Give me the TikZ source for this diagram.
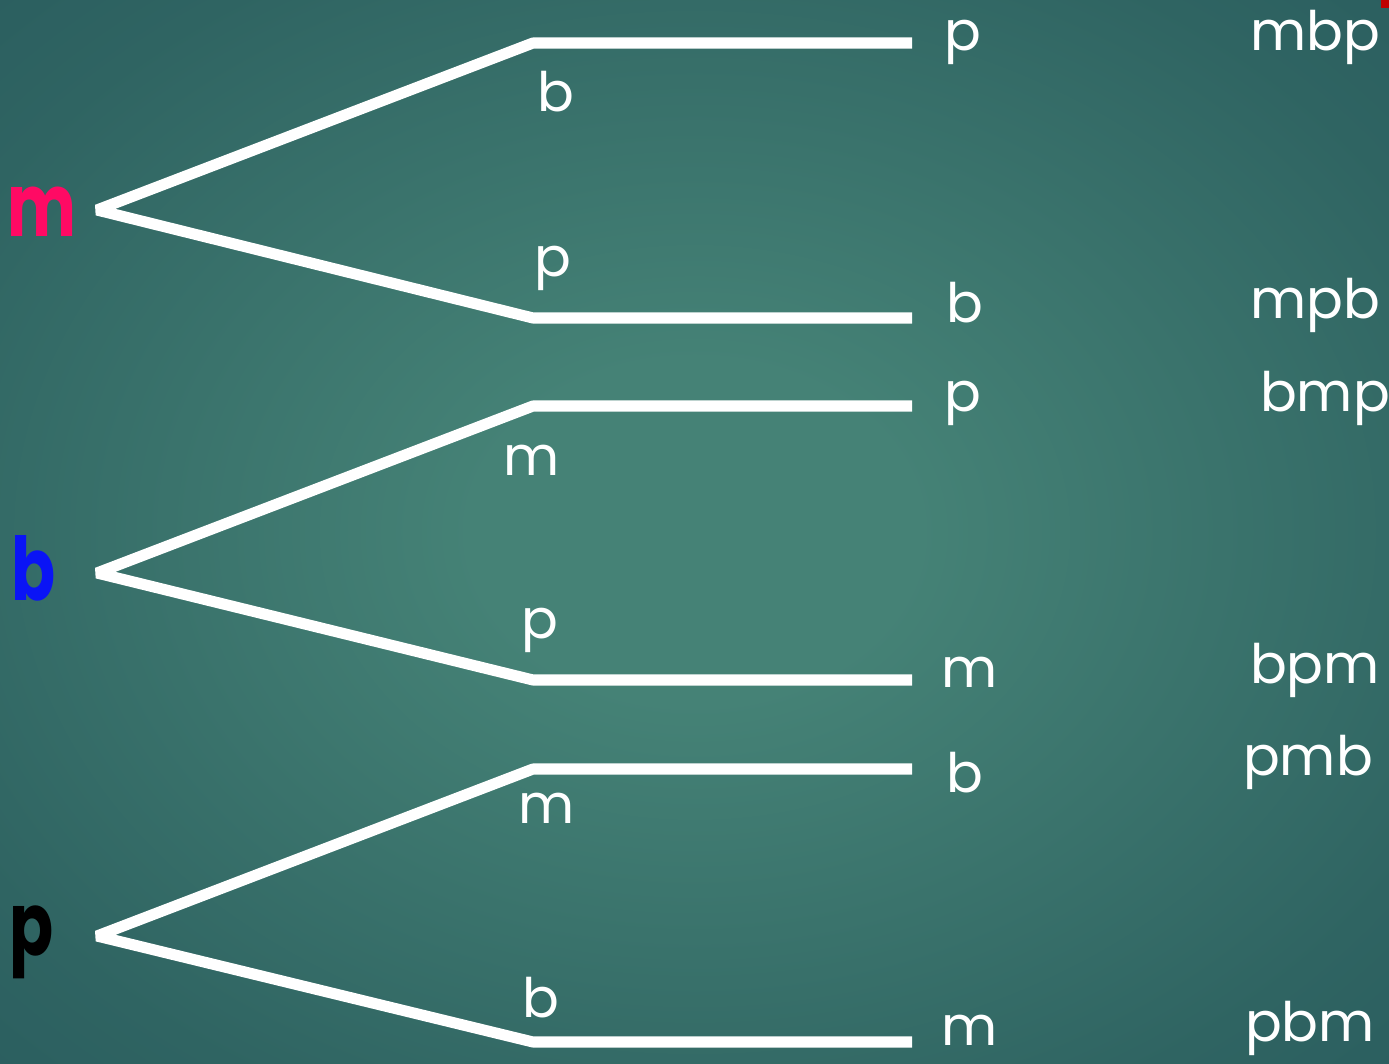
\documentclass[tikz,border=0pt]{standalone}
\usepackage{graphicx}
\usepackage{fontspec}
\setmainfont{Poppins}
\definecolor{bgin}{HTML}{458276}
\definecolor{bgmid}{HTML}{2F6462}
\definecolor{bgout}{HTML}{22525A}
\definecolor{bgcorner}{HTML}{17404A}
\definecolor{rootred}{HTML}{FF0A64}
\definecolor{rootblue}{HTML}{0A14F5}
\definecolor{markred}{HTML}{C00000}
\pgfdeclareradialshading{bgshade}{\pgfpoint{0bp}{0bp}}{color(0bp)=(bgin); color(8bp)=(bgin); color(30bp)=(bgmid); color(50bp)=(bgout); color(72bp)=(bgcorner)}
\tikzset{
  branch/.style={draw=white, line width=6.3pt, line join=bevel},
  lbl/.style={text=white, font=\fontsize{31}{36}\selectfont, inner sep=0pt},
  rootlbl/.style={font=\fontsize{50}{60}\selectfont\bfseries, inner sep=0pt},
  pt/.style={coordinate}
}
\newcommand{\narrowtxt}[1]{\scalebox{0.74}[1]{#1}}
\begin{document}
\begin{tikzpicture}[x=0.02cm,y=-0.02cm]
\useasboundingbox (0,0) rectangle (1389,1064);
\shade[shading=bgshade] (0,0) rectangle (1389,1064);
\fill[markred] (1381,0) rectangle (1389,8);
% tree 1
\node[pt] (r1) at (97,210) {};
\node[pt] (a1) at (533,43) {};
\node[pt] (a2) at (912,43) {};
\node[pt] (b1) at (533,318) {};
\node[pt] (b2) at (912,318) {};
% tree 2
\node[pt] (r2) at (97,573) {};
\node[pt] (c1) at (533,406) {};
\node[pt] (c2) at (912,406) {};
\node[pt] (d1) at (533,680) {};
\node[pt] (d2) at (912,680) {};
% tree 3
\node[pt] (r3) at (97,936) {};
\node[pt] (e1) at (533,769) {};
\node[pt] (e2) at (912,769) {};
\node[pt] (f1) at (533,1042) {};
\node[pt] (f2) at (912,1042) {};
\draw[branch] (a2) -- (a1) -- (r1) -- (b1) -- (b2);
\draw[branch] (c2) -- (c1) -- (r2) -- (d1) -- (d2);
\draw[branch] (e2) -- (e1) -- (r3) -- (f1) -- (f2);
% root letters
\node[rootlbl, text=rootred] (m0) at (42,212) {\narrowtxt{m}};
\node[rootlbl, text=rootblue] (b0) at (34,568) {\narrowtxt{b}};
\node[rootlbl, text=black] (p0) at (32,942) {\narrowtxt{p}};
% branch labels
\node[lbl] (lb1) at (556,92) {b};
\node[lbl] (lb2) at (553,268) {p};
\node[lbl] (lb3) at (532,460) {m};
\node[lbl] (lb4) at (540,630) {p};
\node[lbl] (lb5) at (547,808) {m};
\node[lbl] (lb6) at (541,998) {b};
% leaf labels
\node[lbl] (lf1) at (963,42) {p};
\node[lbl] (lf2) at (965,303) {b};
\node[lbl] (lf3) at (963,403) {p};
\node[lbl] (lf4) at (970,672) {m};
\node[lbl] (lf5) at (965,773) {b};
\node[lbl] (lf6) at (970,1030) {m};
% words
\node[lbl] (w1) at (1315,37) {mbp};
\node[lbl] (w2) at (1315,305) {mpb};
\node[lbl] (w3) at (1325,398) {bmp};
\node[lbl] (w4) at (1315,670) {bpm};
\node[lbl] (w5) at (1308,762) {pmb};
\node[lbl] (w6) at (1310,1028) {pbm};
\end{tikzpicture}
\end{document}
